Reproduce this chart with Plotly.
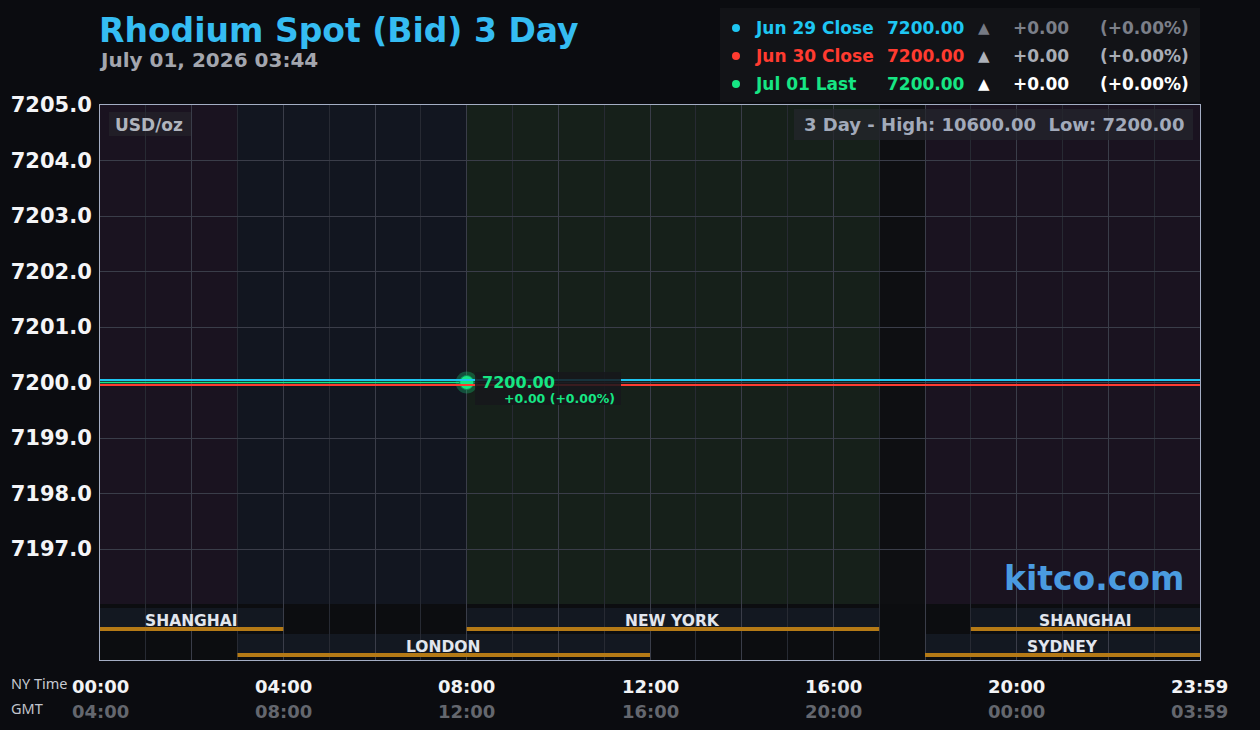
import plotly.graph_objects as go

# ---------------- data ----------------
full_day_hours = [0, 24]
jun29_close = [7200.00, 7200.00]
jun30_close = [7200.00, 7200.00]
jul01_hours = [0, 8]
jul01_last = [7200.00, 7200.00]
last_hour = [8]
last_price = [7200.00]
last_change = "+0.00 (+0.00%)"

y_tick_values = [7197, 7198, 7199, 7200, 7201, 7202, 7203, 7204, 7205]
x_tick_hours = [0, 4, 8, 12, 16, 20, 23.983]
ny_time_labels = ["00:00", "04:00", "08:00", "12:00", "16:00", "20:00", "23:59"]
gmt_labels = ["04:00", "08:00", "12:00", "16:00", "20:00", "00:00", "03:59"]

legend_labels = ["Jun 29 Close", "Jun 30 Close", "Jul 01 Last"]
legend_values = ["7200.00", "7200.00", "7200.00"]
legend_changes = ["+0.00", "+0.00", "+0.00"]
legend_pcts = ["(+0.00%)", "(+0.00%)", "(+0.00%)"]

session_names = ["SHANGHAI", "LONDON", "NEW YORK", "SYDNEY", "SHANGHAI"]
session_start = [0, 3, 8, 18, 19]
session_end = [4, 12, 17, 24, 24]
session_row = [0, 1, 0, 1, 0]

region_start = [0, 3, 8, 17, 18]
region_end = [3, 8, 17, 18, 24]

title_text = "Rhodium Spot (Bid) 3 Day"
subtitle_text = "July 01, 2026 03:44"
range_text = "3 Day - High: 10600.00&nbsp; Low: 7200.00"
unit_text = "USD/oz"

# ---------------- styles ----------------
BG = "#0b0c10"
CYAN = "#1ec6f2"
RED = "#ff3b30"
GREEN = "#16e684"
region_colors = ["#1a1320", "#121620", "#16201a", "#0e0f12", "#1a1320"]
FONT = "DejaVu Sans"

L, R, T, B = 100, 1200, 105, 660
W, H = 1260, 730


def px(x):
    return (x - L) / (R - L)


def py(y):
    return (B - y) / (B - T)


fig = go.Figure()

# lines (offset axes so the three coincident lines stay visible)
fig.add_trace(go.Scatter(x=full_day_hours, y=jun29_close, mode="lines",
                         line=dict(color=CYAN, width=2), yaxis="y2",
                         hoverinfo="skip", showlegend=False))
fig.add_trace(go.Scatter(x=full_day_hours, y=jun30_close, mode="lines",
                         line=dict(color=RED, width=2), yaxis="y3",
                         hoverinfo="skip", showlegend=False))
fig.add_trace(go.Scatter(x=jul01_hours, y=jul01_last, mode="lines",
                         line=dict(color=GREEN, width=1.5),
                         hoverinfo="skip", showlegend=False))
fig.add_trace(go.Scatter(x=last_hour, y=last_price, mode="markers",
                         marker=dict(size=22, color="rgba(22,230,132,0.28)"),
                         hoverinfo="skip", showlegend=False))
fig.add_trace(go.Scatter(x=last_hour, y=last_price, mode="markers",
                         marker=dict(size=14, color=GREEN,
                                     line=dict(color="#0f8a55", width=1)),
                         hoverinfo="skip", showlegend=False))

shapes = []
# background session regions
for s, e, c in zip(region_start, region_end, region_colors):
    shapes.append(dict(type="rect", xref="x", yref="paper", x0=s, x1=e,
                       y0=0, y1=1, fillcolor=c, line=dict(width=0),
                       layer="below"))
# bottom session band
shapes.append(dict(type="rect", xref="paper", yref="paper", x0=0, x1=1,
                   y0=0, y1=py(604), fillcolor="#0c0d10",
                   line=dict(width=0), layer="below"))
row_y = [(608, 631, 627), (634, 657, 653)]
for name, s, e, r in zip(session_names, session_start, session_end, session_row):
    y0, y1, yo = row_y[r]
    shapes.append(dict(type="rect", xref="x", yref="paper", x0=s, x1=e,
                       y0=py(y1), y1=py(y0), fillcolor="#131821",
                       line=dict(width=0), layer="below"))
    shapes.append(dict(type="rect", xref="x", yref="paper", x0=s, x1=e,
                       y0=py(y1), y1=py(yo), fillcolor="#b57a16",
                       line=dict(width=0), layer="above"))

# legend box
shapes.append(dict(type="rect", xref="paper", yref="paper", x0=px(720),
                   x1=px(1200), y0=py(102), y1=py(8), fillcolor="#121317",
                   line=dict(width=0), layer="above"))
# unit box
shapes.append(dict(type="rect", xref="paper", yref="paper", x0=px(109),
                   x1=px(191), y0=py(136), y1=py(112),
                   fillcolor="rgba(40,40,46,0.55)", line=dict(width=0),
                   layer="above"))
# range box
shapes.append(dict(type="rect", xref="paper", yref="paper", x0=px(794),
                   x1=px(1193), y0=py(140), y1=py(109),
                   fillcolor="rgba(36,38,44,0.75)", line=dict(width=0),
                   layer="above"))
# last price label box
shapes.append(dict(type="rect", xref="paper", yref="paper", x0=px(475),
                   x1=px(621), y0=py(405), y1=py(372),
                   fillcolor="rgba(22,24,28,0.85)", line=dict(width=0),
                   layer="above"))

legend_colors = [CYAN, RED, GREEN]
tri_colors = ["#767a84", "#aeb2ba", "#ffffff"]
chg_colors = ["#7b7f89", "#a9adb6", "#ffffff"]
row_ys = [28, 56, 84]
for c, yy in zip(legend_colors, row_ys):
    shapes.append(dict(type="circle", xref="paper", yref="paper",
                       x0=px(732), x1=px(740), y0=py(yy + 4), y1=py(yy - 4),
                       fillcolor=c, line=dict(width=0), layer="above"))

ann = []


def text(x, y, t, size, color, xanchor="left", weight="bold", family=FONT):
    ann.append(dict(xref="paper", yref="paper", x=px(x), y=py(y), text=t,
                    showarrow=False, xanchor=xanchor, yanchor="middle",
                    font=dict(family=family, size=size, color=color,
                              weight=weight)))


text(97, 30, title_text, 33, "#35bcf2")
text(97, 60, subtitle_text, 20, "#a3a6ae")
text(113, 125, unit_text, 17, "#b0b4bd")
text(1186, 125, range_text, 18, "#a2aaba", xanchor="right")

for lab, val, chg, pct, c, tc, cc, yy in zip(legend_labels, legend_values,
                                              legend_changes, legend_pcts,
                                              legend_colors, tri_colors,
                                              chg_colors, row_ys):
    text(753, yy, lab, 17, c)
    text(967, yy, val, 17, c, xanchor="right")
    text(984, yy, "▲", 15, tc, xanchor="center")
    text(1071, yy, chg, 17, cc, xanchor="right")
    text(1191, yy, pct, 17, cc, xanchor="right")

# last price label
text(480, 382, f"{last_price[0]:.2f}", 16, GREEN)
text(617, 399, last_change, 12.5, GREEN, xanchor="right")

# session labels
row_text_y = [621, 647]
for name, s, e, r in zip(session_names, session_start, session_end, session_row):
    ann.append(dict(xref="x", yref="paper", x=(s + e) / 2, y=py(row_text_y[r]),
                    text=name, showarrow=False, xanchor="center",
                    yanchor="middle",
                    font=dict(family=FONT, size=15.5, color="#e2e6ee",
                              weight="bold")))

# watermark
text(1186, 578, "kitco.com", 33, "#4a9be0", xanchor="right")

# x tick labels (NY time and GMT)
text(9, 683, "NY Time", 14.5, "#c6cad2", weight="normal", family="Noto Sans")
text(9, 708, "GMT", 14.5, "#c0c4cc", weight="normal", family="Noto Sans")
for h, ny, g in zip(x_tick_hours, ny_time_labels, gmt_labels):
    ann.append(dict(xref="x", yref="paper", x=h, y=py(686), text=ny,
                    showarrow=False, xanchor="center", yanchor="middle",
                    font=dict(family=FONT, size=18, color="#f2f3f5",
                              weight="bold")))
    ann.append(dict(xref="x", yref="paper", x=h, y=py(711), text=g,
                    showarrow=False, xanchor="center", yanchor="middle",
                    font=dict(family=FONT, size=18, color="#64676e",
                              weight="bold")))

d = 0.045
fig.update_layout(
    width=W, height=H,
    margin=dict(l=L, r=W - R, t=T, b=H - B, pad=0, autoexpand=False),
    paper_bgcolor=BG, plot_bgcolor="#0e0f12",
    showlegend=False,
    shapes=shapes, annotations=ann,
    xaxis=dict(range=[0, 24], tickvals=list(range(0, 25, 2)),
               showticklabels=False, showgrid=True, gridcolor="#3a3d49",
               gridwidth=1, zeroline=False, showline=True, mirror=True,
               linecolor="#a4aec4", linewidth=1, ticks="", automargin=False,
               minor=dict(dtick=1, showgrid=True, gridcolor="#272a33",
                          gridwidth=1)),
    yaxis=dict(range=[7195, 7205], tickvals=y_tick_values,
               tickformat=".1f", showgrid=True, gridcolor="#3a3d49",
               zeroline=False, showline=True, mirror=True,
               linecolor="#a4aec4", linewidth=1, ticks="",
               ticklabelstandoff=3, automargin=False,
               tickfont=dict(family=FONT, size=21, color="#f4f5f7",
                             weight="bold")),
    yaxis2=dict(range=[7195 - d, 7205 - d], overlaying="y", visible=False),
    yaxis3=dict(range=[7195 + d, 7205 + d], overlaying="y", visible=False),
)

fig.write_html("out.html")
